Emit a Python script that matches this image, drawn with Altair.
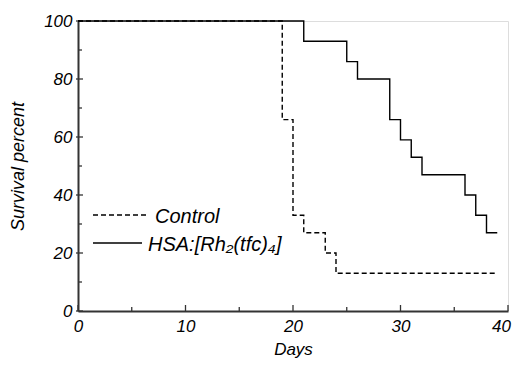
import altair as alt
import pandas as pd

control_days = [0, 19, 20, 21, 23, 24, 39]
control_surv = [100, 66, 33, 27, 20, 13, 13]
hsa_days = [0, 21, 25, 26, 29, 30, 31, 32, 36, 37, 38, 39]
hsa_surv = [100, 93, 86, 80, 66, 59, 53, 47, 40, 33, 27, 27]
series_names = ["Control", "HSA:[Rh₂(tfc)₄]"]

x_major = [0, 10, 20, 30, 40]
x_minor = [5, 15, 25, 35]
y_major = [0, 20, 40, 60, 80, 100]
y_minor = [10, 30, 50, 70, 90]

W, H = 430, 290
FONT = "Liberation Sans"
DASH = [5, 3]

ctrl = pd.DataFrame({"day": control_days, "surv": control_surv})
hsa = pd.DataFrame({"day": hsa_days, "surv": hsa_surv})

xs = alt.Scale(domain=[0, 40], nice=False)
ys = alt.Scale(domain=[0, 100], nice=False)

x_enc = alt.X("day:Q", scale=xs, title="Days",
              axis=alt.Axis(values=x_major, tickSize=0, labelPadding=7, labelFontSize=17,
                            labelFlush=False, labelOverlap=False,
                            labelOffset={"condition": {"test": "datum.value == 40", "value": -7},
                                         "value": 0},
                            labelFontStyle="italic", labelFont=FONT, titleFont=FONT,
                            titleFontSize=17, titleFontStyle="italic", titleFontWeight="normal",
                            titlePadding=7, domainColor="#333", domainWidth=2, grid=False,
                            labelColor="black", titleColor="black"))
y_enc = alt.Y("surv:Q", scale=ys, title="Survival percent",
              axis=alt.Axis(values=y_major, tickSize=0, labelPadding=6, labelFontSize=17,
                            labelFlush=False, labelOverlap=False,
                            labelFontStyle="italic", labelFont=FONT, titleFont=FONT,
                            titleFontSize=18, titleFontStyle="italic", titleFontWeight="normal",
                            titlePadding=16, domainColor="#333", domainWidth=2, grid=False,
                            labelColor="black", titleColor="black"))

ctrl_line = alt.Chart(ctrl).mark_line(interpolate="step-after", color="black",
                                      strokeWidth=1.4, strokeDash=DASH).encode(x=x_enc, y=y_enc)
hsa_line = alt.Chart(hsa).mark_line(interpolate="step-after", color="black",
                                    strokeWidth=1.4).encode(x="day:Q", y="surv:Q")

xmaj = pd.DataFrame({"v": x_major})
xmin = pd.DataFrame({"v": x_minor})
ymaj = pd.DataFrame({"v": y_major})
ymin = pd.DataFrame({"v": y_minor})

tick_x_major = alt.Chart(xmaj).mark_rule(color="#333", strokeWidth=1.3).encode(
    x=alt.X("v:Q", scale=xs), y=alt.value(H), y2=alt.value(H - 6))
tick_x_minor = alt.Chart(xmin).mark_rule(color="#333", strokeWidth=1.3).encode(
    x=alt.X("v:Q", scale=xs), y=alt.value(H), y2=alt.value(H - 4))
tick_y_major = alt.Chart(ymaj).mark_rule(color="#333", strokeWidth=1.3).encode(
    y=alt.Y("v:Q", scale=ys), x=alt.value(-2), x2=alt.value(5))
tick_y_minor = alt.Chart(ymin).mark_rule(color="#333", strokeWidth=1.3).encode(
    y=alt.Y("v:Q", scale=ys), x=alt.value(0), x2=alt.value(4))

# manual legend
leg_ctrl_line = alt.Chart(pd.DataFrame({"s": [series_names[0]]})).mark_rule(
    color="black", strokeWidth=1.4, strokeDash=DASH).encode(
    x=alt.value(15), x2=alt.value(69), y=alt.value(194))
leg_hsa_line = alt.Chart(pd.DataFrame({"s": [series_names[1]]})).mark_rule(
    color="black", strokeWidth=1.4).encode(
    x=alt.value(15), x2=alt.value(64), y=alt.value(222))
leg_ctrl_text = alt.Chart(pd.DataFrame({"s": [series_names[0]]})).mark_text(
    font=FONT, fontSize=20, fontStyle="italic", align="left", baseline="alphabetic",
    color="black").encode(text="s:N", x=alt.value(77), y=alt.value(202))
leg_hsa_text = alt.Chart(pd.DataFrame({"s": [series_names[1]]})).mark_text(
    font=FONT, fontSize=20, fontStyle="italic", align="left", baseline="alphabetic",
    color="black").encode(text="s:N", x=alt.value(70), y=alt.value(230))

chart = alt.layer(tick_x_major, tick_x_minor, tick_y_major, tick_y_minor,
                  ctrl_line, hsa_line,
                  leg_ctrl_line, leg_hsa_line, leg_ctrl_text, leg_hsa_text).properties(
    width=W, height=H,
    autosize=alt.AutoSizeParams(type="none"),
    padding={"left": 70, "top": 13, "right": 4, "bottom": 49},
).configure_view(stroke=None).configure(background="white")

chart.save("out.html", embed_options={"renderer": "svg", "actions": False})
